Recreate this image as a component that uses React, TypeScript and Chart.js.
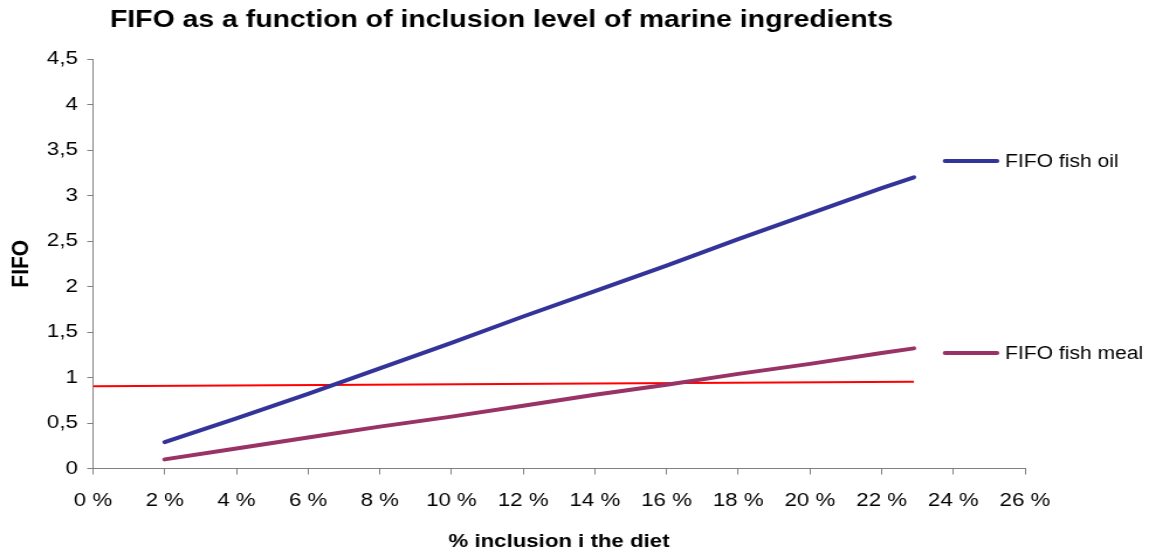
import React, { useEffect, useRef } from "react";
import { Chart, registerables } from "chart.js";

Chart.register(...registerables);

const TITLE = "FIFO as a function of inclusion level of marine ingredients";
const X_TITLE = "% inclusion i the diet";
const Y_TITLE = "FIFO";

const inclusion = [2, 4, 6, 8, 10, 12, 14, 16, 18, 20, 22, 22.9];
const fifoFishOil = [0.29, 0.55, 0.82, 1.1, 1.38, 1.67, 1.95, 2.23, 2.52, 2.8, 3.08, 3.2];
const fifoFishMeal = [0.1, 0.22, 0.34, 0.46, 0.57, 0.69, 0.81, 0.92, 1.04, 1.15, 1.27, 1.32];
const referenceX = [0, 22.9];
const referenceY = [0.905, 0.953];

const FONT = "'Liberation Sans', Arial, sans-serif";

// The reference is horizontally stretched; render narrower and stretch with CSS.
const OUT_W = 1149;
const OUT_H = 556;
const CANVAS_W = 982;
const STRETCH = OUT_W / CANVAS_W;

const overlayPlugin = {
  id: "overlay",
  afterDraw(chart: any) {
    const ctx = chart.ctx;
    ctx.save();
    ctx.fillStyle = "#000";
    ctx.font = `bold 24px ${FONT}`;
    ctx.textAlign = "left";
    ctx.textBaseline = "alphabetic";
    const tw = ctx.measureText(TITLE).width;
    const target = 783 / STRETCH;
    ctx.save();
    ctx.translate(110 / STRETCH, 27);
    ctx.scale(target / tw, 1);
    ctx.fillText(TITLE, 0, 0);
    ctx.restore();

    const items = [
      { ds: chart.data.datasets[0], y: 161 },
      { ds: chart.data.datasets[1], y: 353 },
    ];
    ctx.font = `18px ${FONT}`;
    ctx.textBaseline = "middle";
    for (const it of items) {
      ctx.strokeStyle = it.ds.borderColor;
      ctx.lineWidth = 4;
      ctx.lineCap = "round";
      ctx.beginPath();
      ctx.moveTo(945 / STRETCH, it.y);
      ctx.lineTo(997 / STRETCH, it.y);
      ctx.stroke();
      ctx.fillStyle = "#000";
      ctx.fillText(it.ds.label, 1005 / STRETCH, it.y + 1);
    }
    ctx.restore();
  },
};

export default function App() {
  const ref = useRef<HTMLCanvasElement | null>(null);
  useEffect(() => {
    if (!ref.current) return;
    const chart = new Chart(ref.current, {
      type: "line",
      data: {
        datasets: [
          {
            label: "FIFO fish oil",
            data: inclusion.map((x, i) => ({ x, y: fifoFishOil[i] })),
            borderColor: "#333399",
            borderWidth: 4,
            pointRadius: 0,
            borderCapStyle: "round",
            borderJoinStyle: "round",
          },
          {
            label: "FIFO fish meal",
            data: inclusion.map((x, i) => ({ x, y: fifoFishMeal[i] })),
            borderColor: "#993366",
            borderWidth: 4,
            pointRadius: 0,
            borderCapStyle: "round",
            borderJoinStyle: "round",
          },
          {
            label: "Reference",
            data: referenceX.map((x, i) => ({ x, y: referenceY[i] })),
            borderColor: "#ff0000",
            borderWidth: 2,
            pointRadius: 0,
          },
        ],
      },
      options: {
        animation: false,
        responsive: false,
        maintainAspectRatio: false,
        layout: { padding: { top: 59, right: CANVAS_W - 1025 / STRETCH, left: 0, bottom: 0 } },
        plugins: {
          legend: { display: false },
          title: { display: false },
          tooltip: { enabled: false },
        },
        scales: {
          x: {
            type: "linear",
            min: 0,
            max: 26,
            afterFit: (s: any) => {
              s.height = 87.5;
            },
            ticks: {
              stepSize: 2,
              color: "#000",
              font: { family: FONT, size: 19 },
              padding: 15,
              maxRotation: 0,
              callback: (v: any) => `${v} %`,
            },
            grid: {
              drawOnChartArea: false,
              drawTicks: true,
              tickLength: 6,
              color: "#808080",
            },
            border: { display: true, color: "#808080", width: 1 },
            title: {
              display: true,
              text: X_TITLE,
              color: "#000",
              font: { family: FONT, size: 19, weight: "bold" },
              padding: { top: 0, bottom: 3 },
            },
          },
          y: {
            min: 0,
            max: 4.5,
            afterFit: (s: any) => {
              s.width = 93 / STRETCH;
            },
            ticks: {
              stepSize: 0.5,
              color: "#000",
              font: { family: FONT, size: 19 },
              padding: 8,
              callback: (v: any) => String(v).replace(".", ","),
            },
            grid: {
              drawOnChartArea: false,
              drawTicks: true,
              tickLength: 5,
              color: "#808080",
            },
            border: { display: true, color: "#808080", width: 1 },
            title: {
              display: true,
              text: Y_TITLE,
              color: "#000",
              font: { family: FONT, size: 21, weight: "bold" },
              padding: { top: 6, bottom: 0 },
            },
          },
        },
      },
      plugins: [overlayPlugin],
    } as any);
    return () => chart.destroy();
  }, []);
  return (
    <div
      style={{
        position: "absolute",
        left: 0,
        top: 0,
        width: OUT_W,
        height: OUT_H,
        background: "#fff",
        overflow: "hidden",
      }}
    >
      <canvas
        ref={ref}
        width={CANVAS_W}
        height={OUT_H}
        style={{ display: "block", transform: `scaleX(${STRETCH})`, transformOrigin: "0 0" }}
      />
    </div>
  );
}
